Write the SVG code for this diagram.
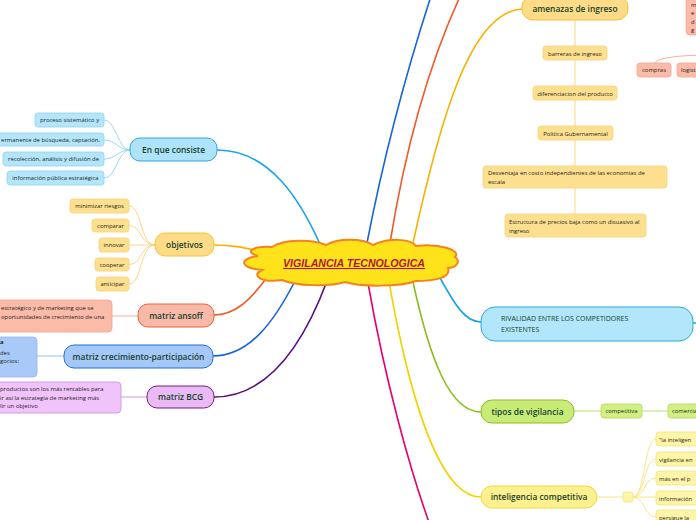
<svg xmlns="http://www.w3.org/2000/svg" width="696" height="520" viewBox="0 0 696 520">
<style>
.main{font-family:"Open Sans","Noto Sans",sans-serif;font-weight:600;font-size:8.4px;fill:#173f2c;text-anchor:middle}
.sub{font-family:"Open Sans","Noto Sans",sans-serif;font-size:5.9px;fill:#1e1e1e}
.mid{text-anchor:middle}
.end{text-anchor:end}
.c{fill:none;stroke-width:1.6;stroke-linecap:round}
.t{fill:none;stroke-width:0.9}
</style>
<rect width="696" height="520" fill="#fff"/>
<g id="connectors">
<path class="c" stroke="#1aa3e8" d="M320,244 C300,200 270,150 217,150"/>
<path class="c" stroke="#f9b000" d="M214,245 C235,245 245,248 262,252"/>
<path class="c" stroke="#f05a28" d="M265,280 C250,300 235,315 214,315"/>
<path class="c" stroke="#1565d8" d="M295,281 C275,320 250,356 213,356"/>
<path class="c" stroke="#5b0f7a" d="M327,281 C305,340 270,397 214,397"/>
<path class="c" stroke="#1565d8" d="M367,243 C385,150 410,60 433,-10"/>
<path class="c" stroke="#f05a28" d="M390,243 C405,150 430,60 463,-10"/>
<path class="c" stroke="#f9b000" d="M413,243 C440,120 470,12 522,9"/>
<path class="c" stroke="#1aa3e8" d="M439,276 C455,305 465,322 481,322"/>
<path class="c" stroke="#1aa3e8" d="M693,323 L697,323"/>
<path class="c" stroke="#8cbd1f" d="M413,282 C430,360 450,412 481,412"/>
<path class="c" stroke="#f3d200" d="M389,282 C410,400 440,497 481,497"/>
<path class="c" stroke="#e8006f" d="M368,283 C385,380 410,470 430,525"/>
<g stroke="#8fd3f3" class="t">
<path d="M130,150 C118,150 116,120 104,120"/>
<path d="M130,150 C118,150 116,140 104,140"/>
<path d="M130,150 C118,150 116,159 104,159"/>
<path d="M130,150 C118,150 116,178 104,178"/>
</g>
<g stroke="#f9d27a" class="t">
<path d="M155,245 C140,245 142,206 129,206"/>
<path d="M155,245 C140,245 142,225.5 129,225.5"/>
<path d="M155,245 C140,245 142,245 129,245"/>
<path d="M155,245 C140,245 142,264.5 129,264.5"/>
<path d="M155,245 C140,245 142,284 129,284"/>
</g>
<path class="t" stroke="#f6a58e" d="M138,316 L112,316"/>
<path class="t" stroke="#8fb6f3" d="M64,356 L37,356"/>
<path class="t" stroke="#c98fd9" d="M147,397 L121,397"/>
<path class="t" stroke="#f9d27a" d="M575,20 L575,214"/>
<path class="t" stroke="#f6a58e" d="M655,63 C658,57 680,56 700,55"/>
<path class="t" stroke="#b4da55" d="M574,411 L601,411 M642,411 L668,411"/>
<g stroke="#f5e37a" class="t">
<path d="M597,497 L623,497"/>
<path d="M633,497 C645,497 644,439 656,439"/>
<path d="M633,497 C645,497 644,459 656,459"/>
<path d="M633,497 C645,497 644,478 656,478"/>
<path d="M633,497 L656,497"/>
<path d="M633,497 C645,497 644,517 656,517"/>
</g>
</g>
<g id="center">
<path d="M258,256 C244,252 252,246 272,247 C284,239 312,239 326,245 C338,238 362,238 373,245 C388,238 410,238 416,246 C438,243 462,250 455,257 C462,262 455,268 448,268 C452,279 430,281 416,281 C400,287 360,287 345,282 C328,287 296,286 282,280 C262,283 250,276 262,270 C241,268 237,259 258,256 Z" fill="#ffe31a" stroke="#f5821f" stroke-width="2"/>
<text x="354" y="267" font-family="'Liberation Sans',Arial,sans-serif" font-size="10.6" font-weight="bold" font-style="italic" fill="#b5123b" text-anchor="middle" text-decoration="underline">VIGILANCIA TECNOLOGICA</text>
</g>
<g id="en-que-consiste">
<rect x="130" y="138" width="87" height="23" rx="10" fill="#aee3fa" stroke="#2aa9e0"/>
<text class="main" x="173.5" y="152.5">En que consiste</text>
</g>
<g id="eqc-children" fill="#b3e5fb" stroke="#8fd3f3" stroke-width="0.8">
<rect x="35" y="113" width="69" height="14" rx="3"/>
<rect x="-20" y="133" width="124" height="13" rx="3"/>
<rect x="3" y="152" width="101" height="14" rx="3"/>
<rect x="7" y="171" width="97" height="14" rx="3"/>
</g>
<g stroke="none">
<text class="sub mid" x="69.5" y="122">proceso sistemático y</text>
<text class="sub end" x="100" y="141.5">ermanente de búsqueda, captación,</text>
<text class="sub mid" x="53.5" y="161">recolección, análisis y difusión de</text>
<text class="sub mid" x="55.5" y="180">información pública estratégica</text>
</g>
<g id="objetivos">
<rect x="155" y="233" width="59" height="23" rx="10" fill="#fddb87" stroke="#f9c03b"/>
<text class="main" x="184.5" y="247.5">objetivos</text>
</g>
<g id="obj-children" fill="#fde08f" stroke="#f9d27a" stroke-width="0.8">
<rect x="70" y="199" width="59" height="14" rx="3"/>
<rect x="92" y="219" width="37" height="13" rx="3"/>
<rect x="99" y="238" width="30" height="14" rx="3"/>
<rect x="95" y="258" width="34" height="13" rx="3"/>
<rect x="96" y="277" width="33" height="14" rx="3"/>
</g>
<g>
<text class="sub mid" x="99.5" y="208">minimizar riesgos</text>
<text class="sub mid" x="110.5" y="227.5">comparar</text>
<text class="sub mid" x="114" y="247">innovar</text>
<text class="sub mid" x="112" y="266.5">cooperar</text>
<text class="sub mid" x="112.5" y="286">anticipar</text>
</g>
<g id="matriz-ansoff">
<rect x="138" y="304" width="76" height="23" rx="10" fill="#f9b9a8" stroke="#f0613b"/>
<text class="main" x="176" y="318.5">matriz ansoff</text>
</g>
<g id="ansoff-child">
<rect x="-10" y="300" width="122" height="32" rx="4" fill="#fbbba9" stroke="#f6a58e" stroke-width="0.8"/>
<text class="sub" x="1" y="310">estratégico y de marketing que se</text>
<text class="sub" x="1" y="318.5">oportunidades de crecimiento de una</text>
</g>
<g id="matriz-crecimiento">
<rect x="64" y="345" width="149" height="23" rx="10" fill="#a6c8f8" stroke="#1f6fd8"/>
<text class="main" x="138.5" y="359.5">matriz crecimiento-participación</text>
</g>
<g id="crecimiento-child">
<rect x="-10" y="337" width="47" height="40" rx="4" fill="#a9caf9" stroke="#8fb6f3" stroke-width="0.8"/>
<text class="sub" x="0" y="344" font-weight="bold">a</text>
<text class="sub" x="0" y="355">des</text>
<text class="sub" x="0" y="363">gocios:</text>
</g>
<g id="matriz-bcg">
<rect x="147" y="386" width="67" height="22" rx="10" fill="#e9baf4" stroke="#7b1c86"/>
<text class="main" x="180.5" y="400">matriz BCG</text>
</g>
<g id="bcg-child">
<rect x="-10" y="382" width="131" height="31" rx="4" fill="#f1c3fb" stroke="#c98fd9" stroke-width="0.8"/>
<text class="sub" x="0" y="391">productos son los más rentables para</text>
<text class="sub" x="0" y="400">ir así la estrategia de marketing más</text>
<text class="sub" x="0" y="408">lir un objetivo</text>
</g>
<g id="amenazas">
<rect x="522" y="-4" width="106" height="24" rx="11" fill="#fddb87" stroke="#f9c03b"/>
<text class="main" x="575" y="12">amenazas de ingreso</text>
</g>
<g id="amenazas-children" fill="#fde08f" stroke="#f9d27a" stroke-width="0.8">
<rect x="543" y="46" width="64" height="14" rx="3"/>
<rect x="533" y="86" width="84" height="14" rx="3"/>
<rect x="538" y="126" width="75" height="14" rx="3"/>
<rect x="483" y="166" width="184" height="22" rx="3"/>
<rect x="505" y="214" width="141" height="23" rx="3"/>
</g>
<g>
<text class="sub mid" x="575" y="55.5">barreras de ingreso</text>
<text class="sub mid" x="575" y="95.5">diferenciacion del producto</text>
<text class="sub mid" x="575.5" y="135.5">Politica Gubernamental</text>
<text class="sub" x="488" y="175">Desventaja en costo independientes de las economías de</text>
<text class="sub" x="488" y="184">escala</text>
<text class="sub" x="509" y="224">Estructura de precios baja como un disuasivo al</text>
<text class="sub" x="509" y="232.5">ingreso</text>
</g>
<g id="salmon-right">
<rect x="686" y="-10" width="20" height="45" rx="4" fill="#fbbba9" stroke="#f6a58e" stroke-width="0.8"/>
<text class="sub" x="691" y="7">m</text>
<text class="sub" x="691" y="15">e</text>
<text class="sub" x="691" y="24">d</text>
<text class="sub" x="691" y="32">g</text>
<rect x="637" y="63" width="34" height="14" rx="3" fill="#fbbba9" stroke="#f6a58e" stroke-width="0.8"/>
<text class="sub mid" x="654" y="72">compras</text>
<rect x="677" y="63" width="30" height="14" rx="3" fill="#fbbba9" stroke="#f6a58e" stroke-width="0.8"/>
<text class="sub" x="681" y="72">logist</text>
</g>
<g id="rivalidad">
<rect x="481" y="307" width="212" height="34" rx="14" fill="#b2e6fb" stroke="#2aa9e0"/>
<text class="main" x="501" y="320.5" style="text-anchor:start;font-size:7px;font-weight:500">RIVALIDAD ENTRE LOS COMPETIDORES</text>
<text class="main" x="501" y="331.5" style="text-anchor:start;font-size:7px;font-weight:500">EXISTENTES</text>
</g>
<g id="tipos">
<rect x="481" y="400" width="93" height="23" rx="11" fill="#c9ec78" stroke="#8cbd1f"/>
<text class="main" x="527.5" y="414.5">tipos de vigilancia</text>
<rect x="601" y="404" width="41" height="14" rx="3" fill="#d2ef85" stroke="#b4da55" stroke-width="0.8"/>
<text class="sub mid" x="621.5" y="413">competitiva</text>
<rect x="668" y="404" width="40" height="14" rx="3" fill="#d2ef85" stroke="#b4da55" stroke-width="0.8"/>
<text class="sub" x="672" y="413">comercia</text>
</g>
<g id="inteligencia">
<rect x="481" y="486" width="116" height="22" rx="11" fill="#fdf08f" stroke="#f3d83a"/>
<text class="main" x="539" y="500">inteligencia competitiva</text>
<rect x="623" y="492" width="10" height="10" rx="2" fill="#fef5a8" stroke="#f5e37a" stroke-width="0.8"/>
</g>
<g id="inteligencia-children" fill="#fef5a8" stroke="#f5e37a" stroke-width="0.8">
<rect x="656" y="432" width="50" height="14" rx="3"/>
<rect x="656" y="452" width="50" height="14" rx="3"/>
<rect x="656" y="471" width="50" height="14" rx="3"/>
<rect x="656" y="491" width="50" height="14" rx="3"/>
<rect x="656" y="510" width="50" height="14" rx="3"/>
</g>
<g>
<text class="sub" x="659" y="441.5">"la inteligen</text>
<text class="sub" x="659" y="461.5">vigilancia en</text>
<text class="sub" x="659" y="480.5">más en el p</text>
<text class="sub" x="659" y="500.5">información</text>
<text class="sub" x="659" y="519.5">persigue la</text>
</g>
</svg>
